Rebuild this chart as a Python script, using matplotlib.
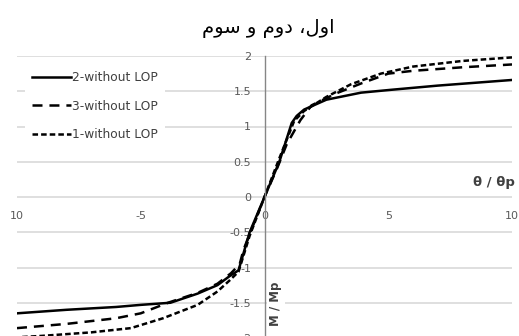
import matplotlib
matplotlib.use("Agg")
import matplotlib.pyplot as plt

plt.rcParams['lines.scale_dashes'] = False

# ---- data ----
title_logical = "اول، دوم و سوم"
# visual (left-to-right) form, with the seen/waw pair joined
title_visual = "\u0645\uFEEE\uFEB3 \u0648 \u0645\u0648\u062F \u060C\u0644\u0648\u0627"

x_label = "θ / θp"
y_label = "M / Mp"

x_ticks = [-10, -5, 0, 5, 10]
x_tick_labels = ["10", "-5", "0", "5", "10"]
y_ticks = [-2, -1.5, -1, -0.5, 0, 0.5, 1, 1.5, 2]
y_tick_labels = ["-2", "-1.5", "-1", "-0.5", "0", "0.5", "1", "1.5", "2"]

s2_label = "2-without LOP"
s2_x = [-10, -8, -6, -5, -3.8, -2.7, -1.9, -1.4, -1.05, -0.6, 0, 0.6, 1.1, 1.3, 1.6, 2.5, 3.9, 5.1, 7, 10]
s2_y = [-1.65, -1.6, -1.56, -1.53, -1.5, -1.37, -1.25, -1.12, -1.04, -0.5, 0, 0.5, 1.05, 1.15, 1.24, 1.38, 1.48, 1.52, 1.58, 1.66]

s3_label = "3-without LOP"
s3_x = [-10, -8, -6, -5, -3.9, -2.7, -1.9, -1.35, -1.0, -0.85, -0.4, 0, 0.5, 0.9, 1.45, 1.9, 2.9, 3.9, 5, 6, 8, 10]
s3_y = [-1.86, -1.8, -1.72, -1.65, -1.5, -1.36, -1.23, -1.08, -0.95, -0.75, -0.35, 0, 0.4, 0.75, 1.09, 1.3, 1.47, 1.61, 1.75, 1.79, 1.84, 1.88]

s1_label = "1-without LOP"
s1_x = [-10, -9, -7, -5.4, -4.1, -2.7, -1.9, -1.4, -1.05, -0.6, 0, 0.6, 1.2, 1.6, 2.5, 3.5, 4.7, 6, 8, 10]
s1_y = [-1.99, -1.97, -1.92, -1.86, -1.72, -1.53, -1.34, -1.18, -1.06, -0.55, 0, 0.55, 1.08, 1.22, 1.42, 1.6, 1.75, 1.85, 1.93, 1.98]

# ---- figure ----
W, H = 519, 336
fig = plt.figure(figsize=(W / 100, H / 100), dpi=100)
ax = fig.add_axes([17 / W, 1 - 338 / H, 495 / W, (338 - 56) / H])
ax.set_xlim(-10, 10)
ax.set_ylim(-2, 2)

grid_c = "#d9d9d9"
axis_c = "#868686"
tick_c = "#595959"

for s in ['top', 'right', 'bottom']:
    ax.spines[s].set_visible(False)
ax.spines['left'].set_position(('data', 0))
ax.spines['left'].set_color(axis_c)
ax.spines['left'].set_linewidth(1.0)

ax.set_yticks(y_ticks)
ax.set_yticklabels(y_tick_labels)
ax.set_xticks(x_ticks)
ax.set_xticklabels(x_tick_labels)
ax.yaxis.grid(True, color=grid_c, linewidth=1.2)
ax.set_axisbelow(True)
ax.tick_params(axis='y', length=0, pad=9.5, labelsize=8, labelcolor=tick_c)
ax.spines['bottom'].set_position(('data', 0))
ax.tick_params(axis='x', length=0, pad=10, labelsize=8, labelcolor=tick_c)

lw = 1.8
ax.plot(s2_x, s2_y, color='black', linewidth=lw, linestyle='-', label=s2_label)
ax.plot(s3_x, s3_y, color='black', linewidth=lw, linestyle=(0, (7.2, 5.0)), label=s3_label)
ax.plot(s1_x, s1_y, color='black', linewidth=lw, linestyle=(0, (4.0, 2.2)), label=s1_label)

leg = ax.legend(loc='upper left', bbox_to_anchor=(25 / W, 1 - 64 / H),
                bbox_transform=fig.transFigure, frameon=True, fancybox=False,
                facecolor='white', edgecolor='none', framealpha=1,
                fontsize=8.8, handlelength=3.2, handletextpad=0.05,
                labelspacing=1.25, borderpad=0.6, borderaxespad=0)
for t in leg.get_texts():
    t.set_color('#404040')

fig.text(268 / W, 1 - 28 / H, title_visual, ha='center', va='center',
         fontsize=14, family='DejaVu Sans', color='black')

fig.text(515 / W, 1 - 183 / H, x_label, ha='right', va='center',
         fontsize=9.5, fontweight='bold', color='#404040')
fig.text(276 / W, 1 - 304 / H, y_label, ha='center', va='center',
         rotation=90, fontsize=8.5, fontweight='bold', color='#404040',
         bbox=dict(facecolor='white', edgecolor='none', pad=2))

fig.savefig("out.png", dpi=100)
